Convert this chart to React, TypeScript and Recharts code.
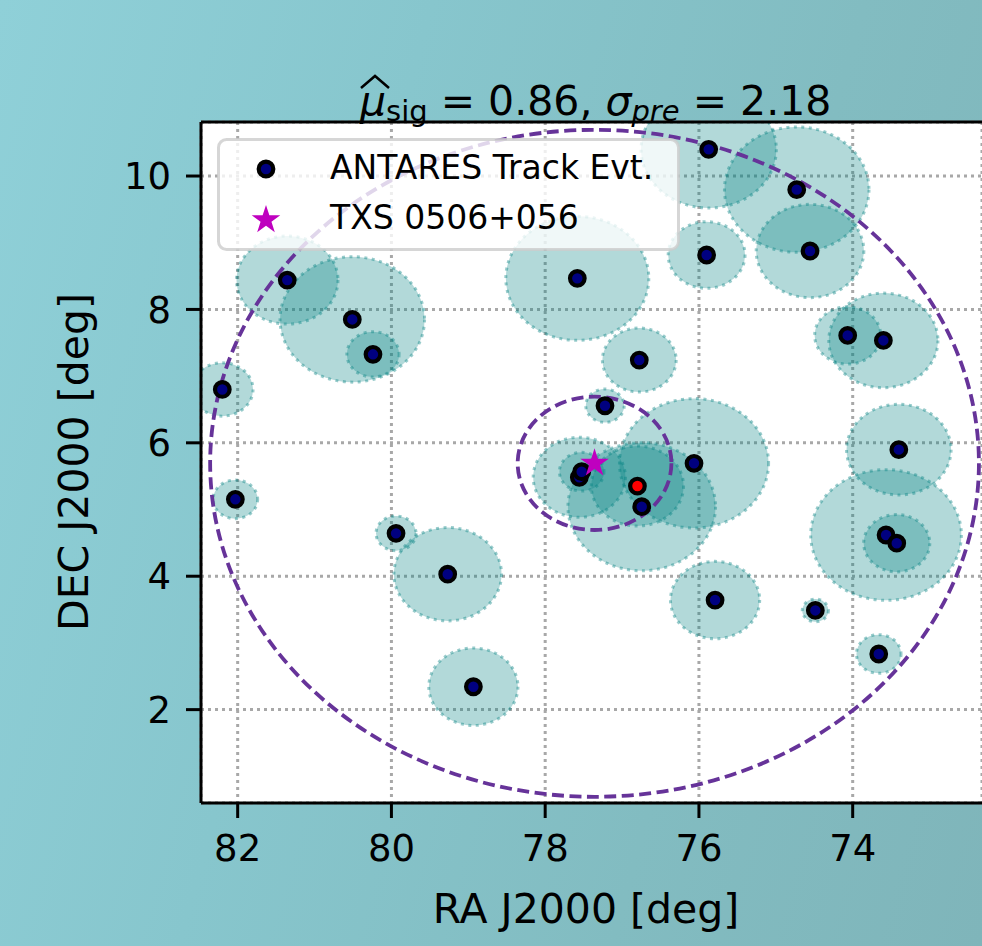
import React from 'react';
import {
  ScatterChart, Scatter, XAxis, YAxis, CartesianGrid, ReferenceArea, ReferenceLine,
} from 'recharts';

const FONT = '"DejaVu Sans", sans-serif';

// ANTARES track events (deg): position and angular error radius
const evtRA = [81.355, 80.509, 80.24, 82.2, 82.03, 79.94, 79.268, 78.934, 77.582, 75.873, 75.9, 76.776, 77.222, 76.064, 77.556, 77.525, 76.8, 76.744, 75.79, 74.728, 74.555, 74.065, 73.601, 73.4, 73.566, 73.427, 74.486, 73.661];
const evtDEC = [8.44, 7.85, 7.327, 6.8, 5.153, 4.643, 4.03, 2.343, 8.466, 10.4, 8.816, 7.241, 6.556, 5.693, 5.483, 5.567, 5.352, 5.042, 3.643, 9.796, 8.876, 7.61, 7.535, 5.898, 4.618, 4.495, 3.487, 2.834];
const evtErr = [0.66, 0.94, 0.34, 0.4, 0.29, 0.26, 0.7, 0.58, 0.93, 0.88, 0.5, 0.48, 0.25, 0.97, 0.6, 0.29, 0.6, 0.96, 0.58, 0.94, 0.7, 0.43, 0.71, 0.68, 0.98, 0.43, 0.17, 0.29];
const bestEvt = 16;

// TXS 0506+056 and the two search radii around it
const srcRA = 77.358;
const srcDEC = 5.693;
const searchRadii = [5, 1];

const raTicks = [74, 76, 78, 80, 82];
const decTicks = [2, 4, 6, 8, 10];
const raDomain = [72.318, 82.477];
const decDomain = [0.6, 10.81];

const events = evtRA.map((ra, i) => ({ ra, dec: evtDEC[i], err: evtErr[i], best: i === bestEvt }));
const source = [{ ra: srcRA, dec: srcDEC }];

function starPath(cx: number, cy: number, R: number) {
  const r = R * 0.382;
  let d = '';
  for (let i = 0; i < 10; i++) {
    const a = -Math.PI / 2 + (i * Math.PI) / 5;
    const rad = i % 2 ? r : R;
    d += (i ? 'L' : 'M') + (cx + rad * Math.cos(a)).toFixed(2) + ' ' + (cy + rad * Math.sin(a)).toFixed(2);
  }
  return d + 'Z';
}

const ErrEllipse = (p: any) => (
  <ellipse
    cx={p.x + p.width / 2} cy={p.y + p.height / 2} rx={p.width / 2} ry={p.height / 2}
    clipPath={p.clipPath}
    fill="#008080" fillOpacity={0.3}
    stroke="#008080" strokeOpacity={0.4} strokeWidth={3} strokeDasharray="3 4.5"
  />
);

const Ring = (p: any) => (
  <ellipse
    cx={p.x + p.width / 2} cy={p.y + p.height / 2} rx={p.width / 2} ry={p.height / 2}
    clipPath={p.clipPath}
    fill="none" stroke="#663399" strokeWidth={3.8} strokeDasharray="12 5.5"
  />
);

const EvtDot = (p: any) => (
  <circle cx={p.cx} cy={p.cy} r={7.3} fill={p.payload.best ? '#ff0000' : '#000080'} stroke="#000" strokeWidth={4.2} />
);

const Star = (p: any) => <path d={starPath(p.cx, p.cy, 15)} fill="#bf00bf" />;

const tickStyle = { fill: '#000', fontSize: 37, fontFamily: FONT };
const blackLine = { stroke: '#000', strokeWidth: 3 };

export default function App() {
  return (
    <div style={{
      position: 'fixed', left: 0, top: 0, width: 982, height: 946, overflow: 'hidden',
      background: 'linear-gradient(105deg, #8fd0d8 0%, #87c6cd 35%, #82bcc1 70%, #7fb5ba 100%)',
    }}>
      <ScatterChart width={982} height={946} margin={{ top: 122, right: 0, bottom: 0, left: 0 }}>
        <CartesianGrid fill="#fff" stroke="#a8a8a8" strokeWidth={3} strokeDasharray="3 4" />
        <XAxis
          type="number" dataKey="ra" domain={raDomain} reversed allowDataOverflow
          ticks={raTicks} interval={0} height={143} tickSize={15} tickMargin={17}
          axisLine={blackLine} tickLine={blackLine} tick={tickStyle}
        />
        <YAxis
          type="number" dataKey="dec" domain={decDomain} allowDataOverflow
          ticks={decTicks} interval={0} width={201} tickSize={15} tickMargin={15}
          axisLine={blackLine} tickLine={blackLine} tick={tickStyle}
        />
        <ReferenceLine y={decDomain[1]} stroke="#000" strokeWidth={3} ifOverflow="visible" />
        {events.map((e, i) => (
          <ReferenceArea
            key={'err' + i} ifOverflow="hidden"
            x1={e.ra - e.err} x2={e.ra + e.err} y1={e.dec - e.err} y2={e.dec + e.err}
            shape={ErrEllipse}
          />
        ))}
        <Scatter data={events} shape={EvtDot} isAnimationActive={false} />
        {searchRadii.map((r) => (
          <ReferenceArea
            key={'ring' + r} ifOverflow="hidden"
            x1={srcRA - r} x2={srcRA + r} y1={srcDEC - r} y2={srcDEC + r}
            shape={Ring}
          />
        ))}
        <Scatter data={source} shape={Star} isAnimationActive={false} />
      </ScatterChart>

      <svg width={982} height={946} style={{ position: 'absolute', left: 0, top: 0, pointerEvents: 'none' }}>
        <text x={360} y={115} fontSize={41} fontFamily={FONT} fill="#000">
          <tspan fontStyle="italic">μ</tspan>
          <tspan fontSize={29} dy={6}>sig</tspan>
          <tspan dy={-6}>{' = 0.86, '}</tspan>
          <tspan fontStyle="italic">σ</tspan>
          <tspan fontStyle="italic" fontSize={29} dy={6}>pre</tspan>
          <tspan dy={-6}>{' = 2.18'}</tspan>
        </text>
        <path d="M361 88 L375 76 L389 88" fill="none" stroke="#000" strokeWidth={2.5} />

        <text x={586} y={923} fontSize={41} fontFamily={FONT} textAnchor="middle" fill="#000">RA J2000 [deg]</text>
        <text x={88} y={462} fontSize={41} fontFamily={FONT} textAnchor="middle" fill="#000"
          transform="rotate(-90 88 462)">DEC J2000 [deg]</text>

        <rect x={218.5} y={139.5} width={460} height={110} rx={8}
          fill="#fff" fillOpacity={0.8} stroke="#cccccc" strokeOpacity={0.8} strokeWidth={3} />
        <circle cx={266} cy={169} r={7.3} fill="#000080" stroke="#000" strokeWidth={4.2} />
        <path d={starPath(266, 220, 15)} fill="#bf00bf" />
        <text x={330} y={179} fontSize={33} fontFamily={FONT} fill="#000">ANTARES Track Evt.</text>
        <text x={330} y={229} fontSize={33} fontFamily={FONT} fill="#000">TXS 0506+056</text>
      </svg>
    </div>
  );
}
